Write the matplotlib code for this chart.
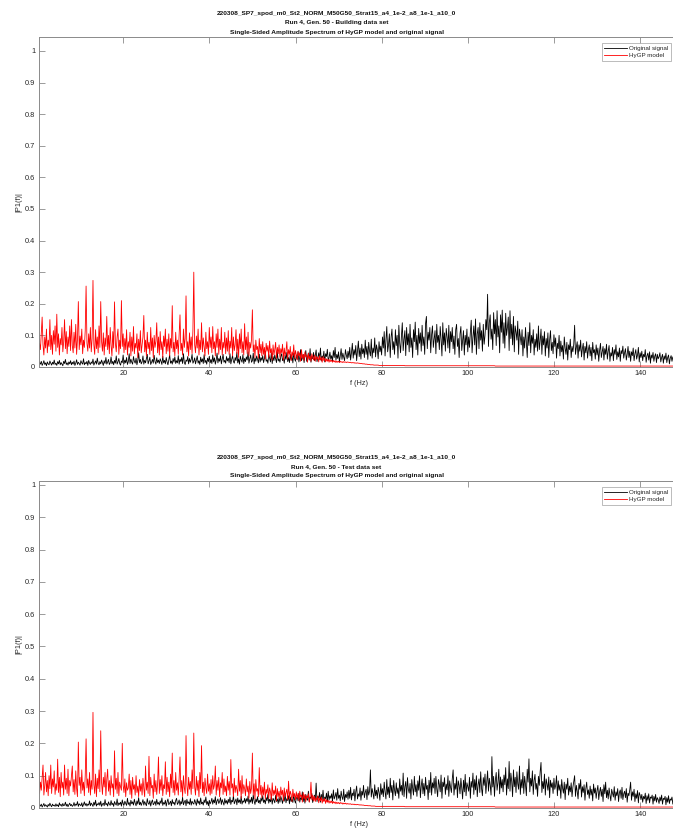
import numpy as np
import matplotlib
matplotlib.use("Agg")
import matplotlib.pyplot as plt

plt.rcParams['font.family'] = ['Liberation Sans', 'DejaVu Sans']

# Frequency axis of the one-sided spectrum (Hz)
f_start = 0.36
f_step = 0.2

run_name = "220308_SP7_spod_m0_St2_NORM_M50G50_Strat15_a4_1e-2_a8_1e-1_a10_0"
subtitles = ["Run 4, Gen. 50 - Building data set", "Run 4, Gen. 50 - Test data set"]
spectrum_title = "Single-Sided Amplitude Spectrum of HyGP model and original signal"
series_names = ["Original signal", "HyGP model"]
x_ticks = [20, 40, 60, 80, 100, 120, 140]
y_ticks = [0, 0.1, 0.2, 0.3, 0.4, 0.5, 0.6, 0.7, 0.8, 0.9, 1]
y_tick_labels = ["0", "0.1", "0.2", "0.3", "0.4", "0.5", "0.6", "0.7", "0.8", "0.9", "1"]

# |P1(f)| amplitudes, in thousandths (20 bins = 4 Hz per row)
orig_build = [
    6, 14, 9, 18, 5, 11, 20, 8, 13, 4, 16, 10, 7, 19, 12, 6, 15, 9, 22, 8,
    12, 5, 17, 10, 21, 7, 14, 9, 4, 18, 11, 24, 8, 13, 6, 16, 10, 20, 7, 15,
    9, 19, 5, 12, 23, 8, 15, 11, 6, 20, 13, 9, 26, 7, 14, 10, 18, 5, 21, 12,
    8, 16, 11, 25, 6, 13, 19, 9, 28, 12, 7, 17, 10, 22, 14, 5, 20, 11, 30, 9,
    15, 24, 8, 13, 32, 10, 18, 7, 21, 12, 35, 9, 16, 27, 11, 6, 19, 14, 38, 10,
    22, 13, 30, 8, 17, 42, 11, 25, 15, 9, 33, 18, 12, 28, 7, 20, 45, 14, 24, 10,
    16, 35, 9, 21, 13, 27, 40, 10, 19, 31, 8, 15, 24, 12, 37, 17, 9, 29, 14, 22,
    11, 26, 18, 8, 34, 13, 21, 10, 30, 16, 7, 23, 38, 12, 19, 9, 27, 15, 32, 11,
    20, 13, 36, 9, 25, 17, 30, 11, 42, 14, 8, 22, 18, 33, 10, 27, 15, 24, 40, 12,
    18, 29, 10, 23, 35, 12, 20, 8, 31, 16, 26, 11, 39, 14, 21, 9, 28, 17, 34, 13,
    24, 11, 38, 16, 29, 9, 22, 44, 13, 27, 18, 35, 10, 25, 40, 15, 21, 12, 33, 19,
    28, 14, 42, 10, 24, 36, 17, 12, 30, 20, 46, 13, 26, 9, 34, 22, 15, 39, 11, 27,
    17, 32, 22, 48, 12, 26, 38, 15, 20, 44, 10, 29, 18, 35, 24, 13, 41, 16, 30, 21,
    36, 14, 27, 50, 18, 23, 12, 40, 28, 16, 45, 11, 33, 20, 38, 25, 14, 47, 19, 26,
    15, 34, 42, 20, 28, 12, 37, 24, 46, 17, 30, 14, 40, 22, 35, 13, 44, 26, 18, 38,
    24, 48, 16, 32, 55, 20, 28, 40, 14, 36, 52, 18, 30, 44, 22, 58, 15, 34, 26, 46,
    20, 38, 54, 17, 30, 45, 24, 60, 19, 35, 28, 50, 16, 42, 33, 56, 21, 29, 47, 25,
    36, 18, 52, 30, 62, 22, 40, 27, 48, 16, 35, 58, 24, 44, 31, 20, 55, 38, 26, 50,
    30, 62, 22, 45, 75, 28, 55, 38, 68, 20, 50, 82, 33, 60, 25, 72, 42, 58, 30, 85,
    40, 65, 24, 78, 50, 35, 88, 28, 60, 45, 92, 32, 70, 55, 26, 80, 48, 66, 38, 95,
    60, 112, 35, 85, 128, 48, 70, 105, 30, 95, 120, 55, 80, 40, 118, 68, 100, 28, 132, 75,
    45, 98, 140, 52, 88, 115, 36, 125, 70, 105, 48, 135, 62, 92, 30, 118, 80, 142, 55, 100,
    38, 122, 75, 108, 50, 132, 68, 95, 40, 138, 160, 58, 110, 85, 125, 45, 102, 130, 62, 90,
    115, 42, 135, 78, 100, 55, 128, 88, 35, 140, 70, 108, 50, 122, 95, 60, 132, 45, 112, 80,
    125, 58, 98, 40, 118, 135, 65, 90, 30, 105, 128, 52, 84, 115, 38, 100, 70, 120, 48, 95,
    62, 110, 148, 45, 95, 130, 70, 152, 40, 105, 125, 58, 140, 85, 115, 50, 135, 72, 100, 150,
    118, 230, 65, 140, 165, 88, 120, 55, 172, 105, 150, 68, 178, 95, 130, 45, 165, 110, 180, 75,
    140, 60, 170, 100, 125, 158, 52, 178, 90, 135, 70, 160, 48, 130, 110, 85, 145, 40, 120, 95,
    70, 118, 35, 95, 60, 125, 80, 30, 110, 68, 140, 45, 100, 75, 118, 38, 88, 62, 105, 50,
    130, 55, 82, 120, 40, 98, 70, 112, 35, 90, 60, 108, 30, 85, 115, 52, 78, 42, 102, 65,
    92, 28, 75, 58, 100, 35, 82, 48, 68, 25, 95, 60, 40, 78, 22, 70, 55, 88, 30, 65,
    48, 72, 132, 40, 62, 80, 28, 70, 50, 85, 32, 58, 75, 22, 65, 45, 80, 28, 55, 70,
    35, 62, 20, 78, 45, 55, 25, 70, 38, 60, 18, 52, 75, 30, 48, 65, 22, 58, 40, 72,
    25, 50, 68, 18, 45, 35, 62, 20, 55, 40, 70, 24, 48, 32, 60, 18, 52, 42, 66, 28,
    45, 58, 22, 40, 65, 30, 50, 18, 48, 36, 60, 20, 42, 55, 25, 38, 62, 16, 45, 30,
    50, 20, 40, 32, 55, 15, 36, 44, 22, 48, 12, 38, 28, 46, 18, 34, 42, 14, 40, 26,
    32, 45, 16, 30, 40, 12, 35, 24, 44, 14, 30, 38, 10, 28, 36, 18, 32, 22, 40, 15,
]

model_build = [
    40, 75, 55, 110, 158, 70, 38, 95, 60, 120, 45, 85, 65, 150, 55, 100, 40, 115, 72, 130,
    50, 167, 62, 105, 38, 90, 70, 125, 48, 80, 150, 58, 112, 42, 95, 65, 130, 52, 150, 68,
    45, 110, 60, 135, 40, 88, 207, 55, 98, 70, 120, 42, 85, 62, 115, 256, 75, 50, 105, 60,
    125, 48, 90, 274, 70, 40, 118, 58, 95, 45, 130, 62, 207, 80, 50, 108, 38, 92, 65, 160,
    55, 100, 42, 125, 68, 35, 112, 60, 206, 75, 48, 95, 120, 40, 85, 58, 210, 65, 105, 45,
    90, 55, 118, 38, 80, 62, 110, 35, 95, 50, 128, 42, 75, 60, 105, 30, 88, 52, 115, 45,
    70, 95, 163, 48, 85, 35, 110, 58, 78, 40, 125, 52, 92, 30, 100, 62, 82, 140, 45, 95,
    38, 112, 55, 80, 30, 98, 65, 120, 42, 88, 50, 105, 35, 90, 60, 194, 48, 78, 35, 110,
    58, 85, 40, 100, 165, 52, 75, 38, 120, 62, 90, 225, 48, 80, 35, 108, 55, 95, 42, 118,
    300, 70, 45, 98, 60, 120, 38, 85, 55, 140, 48, 92, 65, 35, 110, 58, 80, 40, 125, 62,
    95, 45, 128, 58, 80, 35, 105, 62, 120, 40, 88, 55, 125, 38, 78, 60, 110, 42, 92, 50,
    115, 40, 82, 60, 125, 35, 95, 52, 70, 118, 42, 88, 30, 105, 58, 120, 45, 80, 38, 137,
    55, 95, 42, 110, 35, 78, 60, 88, 181, 48, 70, 30, 85, 55, 65, 28, 90, 45, 72, 35,
    80, 40, 62, 25, 75, 50, 68, 30, 82, 45, 58, 22, 70, 38, 55, 78, 28, 62, 42, 70,
    30, 58, 45, 72, 22, 60, 35, 50, 80, 25, 55, 40, 65, 20, 48, 35, 70, 28, 52, 38,
    22, 50, 35, 45, 18, 55, 28, 40, 20, 48, 32, 38, 15, 44, 25, 36, 18, 42, 30, 22,
    38, 18, 34, 24, 32, 16, 36, 22, 30, 15, 33, 20, 28, 16, 26, 18, 25, 15, 24, 17,
    22, 15, 21, 16, 20, 14, 19, 15, 18, 14, 18, 15, 17, 14, 17, 15, 16, 14, 16, 15,
    15, 14, 15, 13, 14, 13, 14, 12, 13, 12, 13, 12, 12, 11, 11, 11, 10, 10, 10, 9,
    9, 9, 8, 8, 8, 7, 7, 7, 7, 6, 6, 6, 6, 6, 6, 5, 5, 5, 5, 5,
    5, 5, 5, 5, 5, 5, 5, 5, 5, 5, 5, 5, 5, 5, 5, 5, 5, 5, 5, 5,
    5, 5, 5, 5, 5, 4, 4, 4, 4, 4, 4, 4, 4, 4, 4, 4, 4, 4, 4, 4,
    4, 4, 4, 4, 4, 4, 4, 4, 4, 4, 4, 4, 4, 4, 4, 4, 4, 4, 4, 4,
    4, 4, 4, 4, 4, 4, 4, 4, 4, 4, 4, 4, 4, 4, 4, 4, 4, 4, 4, 4,
    4, 4, 4, 4, 4, 4, 4, 4, 4, 4, 4, 4, 4, 4, 4, 4, 4, 4, 4, 4,
    4, 4, 4, 4, 4, 4, 4, 4, 4, 4, 4, 4, 4, 4, 4, 4, 4, 4, 4, 4,
    4, 4, 4, 4, 4, 4, 4, 4, 4, 4, 3, 3, 3, 3, 3, 3, 3, 3, 3, 3,
    3, 3, 3, 3, 3, 3, 3, 3, 3, 3, 3, 3, 3, 3, 3, 3, 3, 3, 3, 3,
    3, 3, 3, 3, 3, 3, 3, 3, 3, 3, 3, 3, 3, 3, 3, 3, 3, 3, 3, 3,
    3, 3, 3, 3, 3, 3, 3, 3, 3, 3, 3, 3, 3, 3, 3, 3, 3, 3, 3, 3,
    3, 3, 3, 3, 3, 3, 3, 3, 3, 3, 3, 3, 3, 3, 3, 3, 3, 3, 3, 3,
    3, 3, 3, 3, 3, 3, 3, 3, 3, 3, 3, 3, 3, 3, 3, 3, 3, 3, 3, 3,
    3, 3, 3, 3, 3, 3, 3, 3, 3, 3, 3, 3, 3, 3, 3, 3, 3, 3, 3, 3,
    3, 3, 3, 3, 3, 3, 3, 3, 3, 3, 3, 3, 3, 3, 3, 3, 3, 3, 3, 3,
    3, 3, 3, 3, 3, 3, 3, 3, 3, 3, 3, 3, 3, 3, 3, 3, 3, 3, 3, 3,
    3, 3, 3, 3, 3, 3, 3, 3, 3, 3, 3, 3, 3, 3, 3, 3, 3, 3, 3, 3,
    3, 3, 3, 3, 3, 3, 3, 3, 3, 3, 3, 3, 3, 3, 3, 3, 3, 3, 3, 3,
]

orig_test = [
    4, 9, 6, 12, 3, 8, 14, 5, 10, 7, 3, 11, 6, 15, 8, 4, 12, 7, 9, 5,
    13, 6, 10, 4, 16, 8, 11, 5, 14, 7, 9, 18, 6, 12, 4, 10, 15, 7, 11, 5,
    8, 17, 6, 12, 9, 20, 5, 13, 10, 7, 16, 4, 11, 19, 8, 14, 6, 12, 9, 22,
    7, 15, 11, 5, 18, 9, 24, 6, 13, 10, 17, 8, 21, 5, 12, 15, 7, 26, 10, 14,
    6, 19, 12, 8, 23, 10, 15, 5, 20, 13, 9, 28, 7, 16, 11, 18, 6, 25, 12, 9,
    21, 14, 8, 30, 11, 17, 6, 24, 13, 19, 9, 27, 15, 7, 22, 12, 32, 10, 18, 8,
    16, 26, 9, 20, 13, 7, 29, 15, 11, 23, 6, 18, 25, 10, 14, 21, 8, 27, 12, 17,
    9, 22, 14, 31, 8, 17, 12, 24, 6, 19, 28, 10, 15, 21, 7, 26, 13, 18, 9, 23,
    30, 11, 16, 25, 8, 20, 13, 33, 10, 18, 24, 7, 27, 14, 19, 11, 29, 9, 21, 15,
    12, 26, 17, 8, 28, 14, 22, 10, 31, 13, 18, 9, 25, 16, 34, 11, 20, 7, 24, 13,
    19, 30, 12, 25, 16, 35, 10, 22, 28, 14, 20, 32, 11, 26, 17, 9, 29, 15, 23, 12,
    27, 16, 34, 11, 24, 19, 38, 13, 21, 28, 10, 31, 17, 25, 14, 36, 12, 22, 18, 30,
    15, 29, 20, 37, 12, 26, 18, 33, 14, 40, 22, 11, 28, 19, 35, 16, 24, 13, 31, 21,
    38, 17, 25, 13, 32, 22, 42, 15, 27, 19, 35, 12, 30, 24, 16, 39, 20, 28, 14, 33,
    18, 36, 26, 14, 31, 21, 44, 16, 29, 23, 38, 13, 34, 20, 27, 17, 41, 24, 15, 30,
    35, 22, 46, 18, 32, 26, 50, 20, 38, 15, 42, 28, 24, 52, 19, 34, 30, 45, 17, 28,
    40, 24, 77, 20, 36, 30, 48, 18, 42, 26, 55, 22, 34, 28, 46, 19, 52, 25, 38, 30,
    44, 21, 56, 28, 36, 48, 24, 60, 30, 40, 22, 52, 34, 26, 58, 20, 42, 32, 50, 27,
    55, 30, 64, 25, 46, 38, 58, 22, 50, 68, 28, 44, 36, 62, 24, 52, 40, 70, 32, 48,
    58, 26, 66, 40, 52, 118, 34, 60, 45, 28, 72, 38, 55, 30, 64, 48, 24, 75, 42, 60,
    35, 80, 50, 28, 88, 42, 65, 32, 92, 48, 70, 25, 85, 55, 38, 78, 45, 62, 30, 90,
    52, 70, 40, 108, 35, 66, 82, 30, 94, 58, 46, 76, 28, 88, 62, 40, 98, 50, 72, 36,
    84, 55, 100, 32, 68, 90, 44, 76, 38, 95, 58, 70, 26, 86, 48, 110, 40, 78, 62, 92,
    45, 98, 60, 35, 88, 72, 50, 102, 30, 80, 66, 94, 42, 74, 56, 100, 36, 84, 64, 48,
    90, 118, 40, 76, 58, 96, 32, 84, 70, 44, 92, 62, 28, 86, 50, 104, 38, 78, 66, 52,
    95, 30, 82, 64, 108, 42, 88, 56, 100, 35, 72, 90, 48, 112, 60, 38, 94, 70, 105, 45,
    80, 115, 52, 92, 70, 40, 159, 65, 98, 36, 86, 110, 55, 78, 120, 44, 96, 62, 88, 50,
    102, 72, 125, 40, 90, 60, 144, 52, 108, 82, 35, 118, 66, 95, 48, 112, 75, 58, 130, 42,
    88, 62, 110, 45, 98, 72, 38, 120, 80, 152, 50, 92, 68, 115, 42, 85, 104, 58, 76, 36,
    98, 70, 112, 141, 48, 82, 60, 105, 40, 90, 74, 55, 96, 32, 86, 64, 78, 45, 92, 58,
    70, 100, 38, 84, 55, 72, 30, 88, 62, 46, 80, 26, 74, 58, 92, 40, 68, 50, 78, 35,
    64, 82, 100, 36, 70, 52, 28, 76, 58, 88, 34, 66, 48, 72, 24, 60, 80, 42, 56, 30,
    68, 40, 58, 22, 74, 46, 62, 30, 54, 70, 26, 50, 64, 36, 58, 20, 72, 44, 80, 32,
    55, 28, 62, 40, 22, 58, 46, 34, 66, 24, 50, 38, 60, 20, 48, 56, 30, 64, 26, 44,
    52, 32, 60, 18, 46, 38, 56, 80, 24, 50, 36, 58, 20, 44, 30, 54, 16, 48, 40, 26,
    42, 18, 36, 28, 46, 14, 38, 24, 44, 16, 34, 30, 40, 12, 36, 22, 42, 18, 32, 26,
    14, 34, 22, 40, 12, 30, 26, 36, 10, 32, 18, 38, 14, 28, 24, 34, 12, 30, 20, 26,
]

model_test = [
    1000, 45, 80, 55, 95, 133, 40, 70, 110, 50, 85, 38, 100, 60, 133, 45, 90, 65, 115, 42,
    75, 55, 151, 48, 95, 35, 110, 62, 80, 40, 133, 58, 92, 45, 120, 38, 85, 68, 100, 130,
    50, 88, 42, 115, 60, 35, 204, 70, 95, 45, 118, 55, 80, 38, 100, 214, 62, 90, 48, 110,
    40, 85, 58, 296, 72, 45, 105, 35, 92, 60, 118, 50, 239, 78, 42, 95, 65, 110, 38, 88,
    120, 52, 85, 40, 100, 62, 75, 35, 177, 58, 92, 45, 110, 38, 80, 65, 55, 200, 70, 48,
    90, 35, 78, 55, 62, 105, 42, 85, 30, 95, 58, 72, 40, 100, 48, 68, 35, 88, 52, 75,
    40, 92, 60, 35, 130, 55, 80, 45, 160, 38, 95, 62, 70, 30, 105, 50, 85, 42, 75, 158,
    45, 88, 55, 100, 38, 72, 60, 143, 42, 95, 50, 80, 35, 105, 62, 170, 48, 85, 40, 110,
    55, 78, 40, 92, 158, 50, 85, 35, 100, 62, 45, 224, 70, 38, 95, 58, 82, 42, 118, 60,
    232, 65, 40, 98, 55, 85, 35, 110, 60, 193, 48, 80, 38, 92, 62, 45, 105, 52, 75, 40,
    88, 45, 100, 58, 72, 130, 40, 85, 55, 95, 35, 78, 62, 110, 42, 90, 50, 68, 38, 98,
    55, 82, 40, 150, 62, 75, 35, 92, 48, 70, 58, 38, 120, 52, 85, 30, 100, 45, 72, 60,
    38, 90, 50, 68, 30, 82, 45, 62, 170, 40, 75, 28, 88, 52, 60, 35, 125, 42, 70, 32,
    65, 40, 80, 28, 58, 45, 72, 30, 62, 50, 25, 78, 38, 55, 42, 68, 22, 60, 35, 52,
    28, 65, 40, 55, 22, 62, 35, 48, 58, 25, 83, 30, 52, 42, 20, 58, 35, 45, 25, 50,
    30, 45, 22, 52, 35, 40, 18, 48, 28, 42, 20, 38, 32, 44, 18, 35, 80, 25, 40, 22,
    36, 20, 32, 25, 38, 16, 30, 22, 34, 15, 28, 20, 30, 14, 26, 18, 24, 15, 22, 16,
    22, 14, 20, 15, 19, 13, 18, 14, 17, 13, 17, 14, 16, 12, 15, 13, 15, 12, 14, 12,
    13, 12, 13, 11, 12, 11, 12, 10, 11, 10, 11, 10, 10, 9, 10, 9, 9, 9, 8, 8,
    8, 8, 7, 7, 7, 7, 6, 6, 6, 6, 6, 5, 5, 5, 5, 5, 5, 5, 5, 5,
    5, 5, 5, 5, 5, 5, 5, 5, 5, 5, 5, 5, 5, 5, 5, 5, 5, 5, 5, 5,
    5, 5, 5, 5, 5, 4, 4, 4, 4, 4, 4, 4, 4, 4, 4, 4, 4, 4, 4, 4,
    4, 4, 4, 4, 4, 4, 4, 4, 4, 4, 4, 4, 4, 4, 4, 4, 4, 4, 4, 4,
    4, 4, 4, 4, 4, 4, 4, 4, 4, 4, 4, 4, 4, 4, 4, 4, 4, 4, 4, 4,
    4, 4, 4, 4, 4, 4, 4, 4, 4, 4, 4, 4, 4, 4, 4, 4, 4, 4, 4, 4,
    4, 4, 4, 4, 4, 4, 4, 4, 4, 4, 4, 4, 4, 4, 4, 4, 4, 4, 4, 4,
    4, 4, 4, 4, 4, 4, 4, 4, 4, 4, 3, 3, 3, 3, 3, 3, 3, 3, 3, 3,
    3, 3, 3, 3, 3, 3, 3, 3, 3, 3, 3, 3, 3, 3, 3, 3, 3, 3, 3, 3,
    3, 3, 3, 3, 3, 3, 3, 3, 3, 3, 3, 3, 3, 3, 3, 3, 3, 3, 3, 3,
    3, 3, 3, 3, 3, 3, 3, 3, 3, 3, 3, 3, 3, 3, 3, 3, 3, 3, 3, 3,
    3, 3, 3, 3, 3, 3, 3, 3, 3, 3, 3, 3, 3, 3, 3, 3, 3, 3, 3, 3,
    3, 3, 3, 3, 3, 3, 3, 3, 3, 3, 3, 3, 3, 3, 3, 3, 3, 3, 3, 3,
    3, 3, 3, 3, 3, 3, 3, 3, 3, 3, 3, 3, 3, 3, 3, 3, 3, 3, 3, 3,
    3, 3, 3, 3, 3, 3, 3, 3, 3, 3, 3, 3, 3, 3, 3, 3, 3, 3, 3, 3,
    3, 3, 3, 3, 3, 3, 3, 3, 3, 3, 3, 3, 3, 3, 3, 3, 3, 3, 3, 3,
    3, 3, 3, 3, 3, 3, 3, 3, 3, 3, 3, 3, 3, 3, 3, 3, 3, 3, 3, 3,
    3, 3, 3, 3, 3, 3, 3, 3, 3, 3, 3, 3, 3, 3, 3, 3, 3, 3, 3, 3,
]

W, H = 673, 832
fig = plt.figure(figsize=(W / 100, H / 100), dpi=100)

spine_col = "#8a8a8a"
text_col = "#262626"

panels = [
    # axes box in pixels (left, bottom, right, top), y-limit, subtitle, series
    dict(box=(38.7, 367.0, 680.0, 37.3), ytop=1.043, sub=subtitles[0],
         orig=orig_build, model=model_build),
    dict(box=(38.7, 808.0, 680.0, 481.0), ytop=1.012, sub=subtitles[1],
         orig=orig_test, model=model_test),
]

for p in panels:
    l, b, r, t = p["box"]
    ax = fig.add_axes([l / W, 1 - b / H, (r - l) / W, (b - t) / H])
    fo = f_start + f_step * np.arange(len(p["orig"]))
    fm = f_start + f_step * np.arange(len(p["model"]))
    ax.plot(fo, np.array(p["orig"]) / 1000.0, color="black", lw=0.6,
            label=series_names[0])
    ax.plot(fm, np.array(p["model"]) / 1000.0, color="#ff0000", lw=0.6,
            label=series_names[1])
    x_right = f_start + (r - l) / 4.308
    ax.set_xlim(f_start, x_right)
    ax.set_ylim(0, p["ytop"])
    ax.set_xticks(x_ticks)
    ax.set_xticklabels([str(v) for v in x_ticks])
    ax.set_yticks(y_ticks)
    ax.set_yticklabels(y_tick_labels)
    ax.tick_params(direction="in", length=4, width=0.6, color=spine_col,
                   labelsize=5.3, labelcolor=text_col, pad=2.5,
                   top=True, right=True)
    for s in ax.spines.values():
        s.set_color(spine_col)
        s.set_linewidth(0.7)
    ax.set_xlabel("f (Hz)", fontsize=5.3, color=text_col, labelpad=2)
    ax.set_ylabel("|P1(f)|", fontsize=5.3, color=text_col, labelpad=2)

    # three centred title lines above the axes
    for k, line in enumerate([run_name, p["sub"], spectrum_title]):
        y_px = t - 24.0 + 9.5 * k
        fig.text(0.5, 1 - y_px / H, line, ha="center", va="center",
                 fontsize=4.65, fontweight="bold", color="#111111")

    leg_top = t + 6
    leg = ax.legend(loc="upper left", bbox_to_anchor=(601.7 / W, 1 - leg_top / H),
                    bbox_transform=fig.transFigure, fontsize=4.5,
                    frameon=True, fancybox=False, edgecolor=spine_col,
                    handlelength=3.7, handletextpad=0.25, borderpad=0.4,
                    labelspacing=0.3, borderaxespad=0)
    leg.get_frame().set_linewidth(0.5)
    for txt in leg.get_texts():
        txt.set_color(text_col)

fig.savefig("out.png", dpi=100)
